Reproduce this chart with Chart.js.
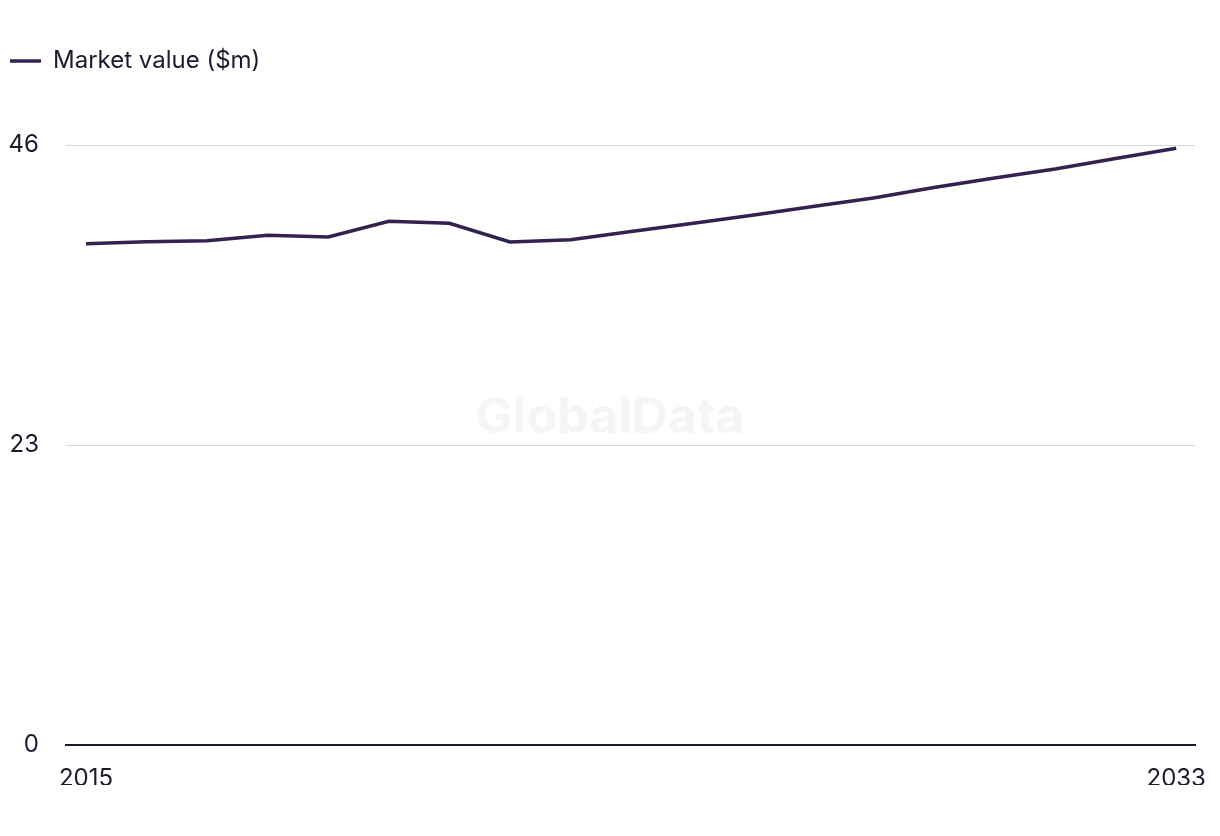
<!DOCTYPE html>
<html lang="en">
<head>
  <meta charset="UTF-8">
  <title>Market value</title>
  <script src="https://cdn.jsdelivr.net/npm/chart.js@4.4.1/dist/chart.umd.min.js"></script>
  <style>
    html, body { margin: 0; padding: 0; background: #fff; }
    #wrap { width: 1220px; height: 836px; }
  </style>
</head>
<body>
  <div id="wrap"><canvas id="marketChart"></canvas></div>

  <script>
    // Data
    const years = [2015, 2016, 2017, 2018, 2019, 2020, 2021, 2022, 2023, 2024,
                   2025, 2026, 2027, 2028, 2029, 2030, 2031, 2032, 2033];
    const marketValue = [38.43, 38.59, 38.66, 39.08, 38.95, 40.15, 40.0, 38.56, 38.74, 39.37,
                         39.98, 40.62, 41.28, 41.94, 42.74, 43.47, 44.16, 44.97, 45.75];
    const yTicks = [0, 23, 46];
    const xTicks = [2015, 2033];

    const ink = '#1b1a2e';
    const lineColor = '#33214f';
    const fontFamily = 'Inter, "Noto Sans", sans-serif';

    // faint watermark behind the plot
    const watermark = {
      id: 'watermark',
      beforeDatasetsDraw(chart) {
        const { ctx } = chart;
        ctx.save();
        ctx.fillStyle = '#f5f5f5';
        ctx.font = 'bold 50px ' + fontFamily;
        ctx.textAlign = 'center';
        ctx.textBaseline = 'middle';
        ctx.fillText('GlobalData', 610, 418);
        ctx.restore();
      }
    };

    const ctx = document.getElementById('marketChart').getContext('2d');
    new Chart(ctx, {
      type: 'line',
      data: {
        datasets: [{
          label: 'Market value ($m)',
          data: years.map((y, i) => ({ x: y, y: marketValue[i] })),
          borderColor: lineColor,
          backgroundColor: lineColor,
          borderWidth: 3.5,
          pointRadius: 0,
          tension: 0
        }]
      },
      plugins: [watermark],
      options: {
        responsive: true,
        maintainAspectRatio: false,
        animation: false,
        layout: { padding: { left: 0, right: 25, top: 39, bottom: 51 } },
        plugins: {
          legend: {
            position: 'top',
            align: 'start',
            labels: {
              usePointStyle: true,
              pointStyle: 'line',
              pointStyleWidth: 31,
              color: ink,
              font: { family: fontFamily, size: 24 },
              padding: 10
            }
          },
          // empty subtitle under the legend, only used as a gap above the plot
          subtitle: {
            display: true,
            text: '',
            weight: 900,
            font: { size: 10 },
            padding: { top: 0, bottom: 50 }
          },
          tooltip: { enabled: false }
        },
        scales: {
          x: {
            type: 'linear',
            min: 2014.67,
            max: 2033.31,
            afterBuildTicks(scale) { scale.ticks = xTicks.map(v => ({ value: v })); },
            afterFit(scale) {
              scale.height = 40;
              scale.paddingLeft = 0;
              scale.paddingRight = 0;
            },
            grid: { display: false, drawTicks: false },
            border: { display: true, color: ink, width: 2 },
            ticks: {
              color: ink,
              padding: 19,
              maxRotation: 0,
              font: { family: fontFamily, size: 24 },
              callback: v => String(v)
            }
          },
          y: {
            min: 0,
            max: 46,
            afterBuildTicks(scale) { scale.ticks = yTicks.map(v => ({ value: v })); },
            afterFit(scale) { scale.width = 66; },
            grid: { color: '#d4d4d4', lineWidth: 1, drawTicks: false },
            border: { display: false },
            ticks: {
              color: ink,
              crossAlign: 'near',
              padding: 27,
              font: { family: fontFamily, size: 24 }
            }
          }
        }
      }
    });
  </script>
</body>
</html>
